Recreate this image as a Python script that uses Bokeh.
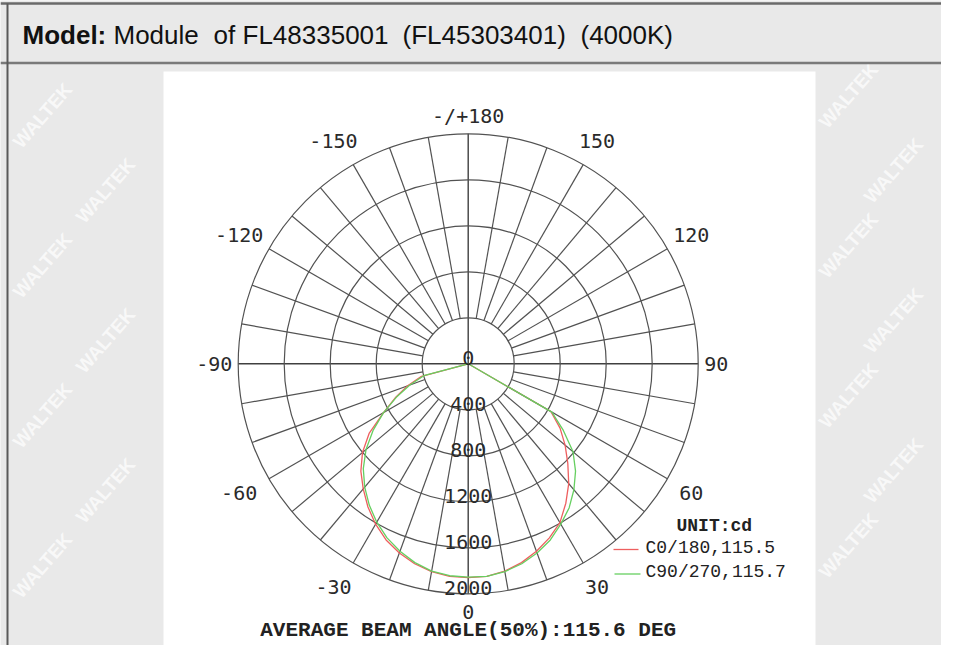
import numpy as np
from bokeh.plotting import figure
from bokeh.models import Range1d
from bokeh.embed import file_html
from bokeh.resources import INLINE
from bokeh.core.properties import value

# ---------------- data ----------------
gamma_deg = [-90, -85, -80, -75, -70, -65, -60, -55, -50, -45, -40, -35, -30, -25, -20, -15, -10, -5,
             0, 5, 10, 15, 20, 25, 30, 35, 40, 45, 50, 55, 60, 65, 70, 75, 80, 85, 90]
c0_180 = [0, 0, 0, 420, 560, 700, 850, 1050, 1200, 1320, 1420, 1520, 1610, 1690, 1750, 1800, 1835, 1855,
          1860, 1855, 1830, 1790, 1735, 1670, 1595, 1480, 1360, 1225, 1100, 975, 830, 0, 0, 0, 0, 0, 0]
c90_270 = [0, 0, 0, 400, 540, 690, 850, 1010, 1160, 1290, 1400, 1500, 1590, 1670, 1735, 1790, 1830, 1850,
           1855, 1855, 1835, 1800, 1750, 1690, 1610, 1530, 1430, 1320, 1190, 1010, 840, 0, 0, 0, 0, 0, 0]
ring_values = [400, 800, 1200, 1600, 2000]
ring_labels = ["0", "400", "800", "1200", "1600", "2000"]
ring_label_values = [0, 400, 800, 1200, 1600, 2000]
angle_ticks = [0, 30, 60, 90, 120, 150, 180, -150, -120, -90, -60, -30]
angle_labels = ["0", "30", "60", "90", "120", "150", "-/+180", "-150", "-120", "-90", "-60", "-30"]
spoke_step = 10
series_names = ["C0/180,115.5", "C90/270,115.7"]
unit_text = "UNIT:cd"
beam_text = "AVERAGE BEAM ANGLE(50%):115.6 DEG"
title_bold = "Model:"
title_parts = ["Module", "of", "FL48335001", "(FL45303401)", "(4000K)"]

# ---------------- geometry helpers (reference pixel -> cd units) ----------------
CX, CY = 467.7, 363.3
K = 2000.0 / 230.0   # cd per pixel
W, H = 941, 645


def X(px):
    return (px - CX) * K


def Y(py):
    return (CY - py) * K


def polar_xy(deg, r):
    t = np.radians(np.asarray(deg, dtype=float))
    r = np.asarray(r, dtype=float)
    return r * np.sin(t), -r * np.cos(t)


BG = "#e9e9e9"
p = figure(width=W, height=H, output_backend="svg", toolbar_location=None,
           x_range=Range1d(X(0), X(W)), y_range=Range1d(Y(H), Y(0)),
           x_axis_type=None, y_axis_type=None, min_border=0)
p.grid.visible = False
p.outline_line_color = None
p.background_fill_color = BG
p.border_fill_color = BG

# watermarks in the grey margins
wm_pts = []
for i, yy in enumerate([115, 190, 265, 340, 415, 490, 565]):
    odd = i % 2 == 1
    wm_pts += [(105 if odd else 42, yy), (893 if odd else 848, yy - 20)]
p.text(x=[X(a) for a, b in wm_pts], y=[Y(b) for a, b in wm_pts], text=["WALTEK"] * len(wm_pts),
       angle=0.85, text_align="center", text_baseline="middle",
       text_font=value("Liberation Sans"), text_font_style="bold", text_font_size="19px",
       text_color="white", text_alpha=0.7)

# header lines and left border
p.segment(x0=[X(0), X(0)], y0=[Y(3), Y(62.5)], x1=[X(W), X(W)], y1=[Y(3), Y(62.5)],
          line_color=["#6a6a6a", "#7a7a7a"], line_width=2.5)
p.segment(x0=[X(7)], y0=[Y(3)], x1=[X(7)], y1=[Y(H)], line_color="#5a5a5a", line_width=2)

# header text
p.text(x=[X(22)], y=[Y(34)], text=[title_bold], text_font=value("Liberation Sans"),
       text_font_style="bold", text_font_size="26px", text_color="#111111",
       text_baseline="middle", text_align="left")
title_x = [113, 213, 242, 402, 580]
p.text(x=[X(v) for v in title_x], y=[Y(34)] * len(title_parts), text=title_parts,
       text_font=value("Liberation Sans"), text_font_size="26px", text_color="#111111",
       text_baseline="middle", text_align="left")

# white panel
p.quad(left=[X(163)], right=[X(815)], top=[Y(71)], bottom=[Y(655)], fill_color="white", line_color=None)

# grid: spokes
GRID = "#525252"
sp = [a for a in range(-180, 180, spoke_step) if a % 90 != 0]
x0, y0 = polar_xy(sp, [ring_values[0]] * len(sp))
x1, y1 = polar_xy(sp, [ring_values[-1]] * len(sp))
p.segment(x0=x0, y0=y0, x1=x1, y1=y1, line_color=GRID, line_width=1.2)
# main axes
rmax = ring_values[-1]
p.segment(x0=[0, -rmax], y0=[-rmax, 0], x1=[0, rmax], y1=[rmax, 0], line_color="#404040", line_width=1.4)
# rings
p.circle(x=[0] * len(ring_values), y=[0] * len(ring_values), radius=ring_values,
         fill_color=None, line_color=GRID, line_width=1.2)

# curves
RED, GREEN = "#ee5f5f", "#66cf60"
rx, ry = polar_xy(gamma_deg, c0_180)
gx, gy = polar_xy(gamma_deg, c90_270)
p.line(rx, ry, line_color=RED, line_width=1.3)
p.line(gx, gy, line_color=GREEN, line_width=1.3)

# ring labels (along the 0 axis, just above each ring)
p.text(x=[0] * len(ring_label_values), y=[-v + 6 * K for v in ring_label_values], text=ring_labels,
       text_font=value("DejaVu Sans Mono"), text_font_size="20px", text_color="#2a2a2a",
       text_align="center", text_baseline="middle")

# angle labels (radius a little larger on the diagonals, as in the reference)
t = np.radians(np.asarray(angle_ticks, dtype=float))
r_lab = (248 + 11 * np.abs(np.sin(2 * t))) * K
ax, ay = polar_xy(angle_ticks, r_lab)
x_off = [-6 if (s.startswith("-") and not s.startswith("-/")) else 0 for s in angle_labels]
p.text(x=ax, y=ay, text=angle_labels, x_offset=x_off, text_font=value("DejaVu Sans Mono"),
       text_font_size="20px", text_color="#2a2a2a", text_align="center", text_baseline="middle")

# legend
p.text(x=[X(676)], y=[Y(525)], text=[unit_text], text_font=value("Liberation Mono"),
       text_font_style="bold", text_font_size="18px", text_color="#222222",
       text_align="left", text_baseline="middle")
p.segment(x0=[X(613), X(614)], y0=[Y(549), Y(573.5)], x1=[X(638), X(640)], y1=[Y(549), Y(573.5)],
          line_color=[RED, GREEN], line_width=1.3)
p.text(x=[X(645), X(645)], y=[Y(547), Y(571.5)], text=series_names, text_font=value("Liberation Mono"),
       text_font_size="18px", text_color="#222222", text_align="left", text_baseline="middle")

# beam angle text
p.text(x=[0], y=[Y(630)], text=[beam_text], text_font=value("Liberation Mono"), text_font_style="bold",
       text_font_size="21px", text_color="#222222", text_align="center", text_baseline="middle")

open("out.html", "w").write(file_html(p, INLINE))
